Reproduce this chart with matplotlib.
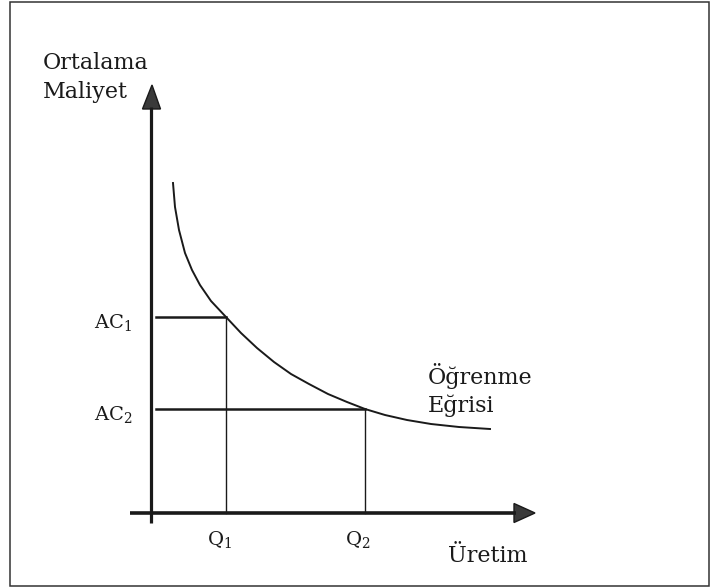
import matplotlib

matplotlib.use("Agg")
import matplotlib.pyplot as plt
from matplotlib.patches import Rectangle

# learning curve (output, average cost)
output_q = [2.2, 2.4, 2.8, 3.4, 4.1, 4.9, 6.0, 7.5, 9.0, 10.6, 12.3, 14.0, 15.8, 17.7, 19.6, 21.4, 23.4, 25.6, 28.0, 30.8, 33.9]
avg_cost = [33.0, 30.6, 28.3, 26.0, 24.3, 22.8, 21.2, 19.6, 18.0, 16.5, 15.1, 13.9, 12.9, 11.9, 11.1, 10.4, 9.8, 9.3, 8.9, 8.6, 8.4]

# marked points on the curve
point_q = [7.5, 21.4]
point_ac = [19.6, 10.4]
q_labels = ["Q$_1$", "Q$_2$"]
ac_labels = ["AC$_1$", "AC$_2$"]

plt.rcParams["font.family"] = "DejaVu Serif"
plt.rcParams["mathtext.fontset"] = "dejavuserif"

INK = "#1a1a1a"

fig = plt.figure(figsize=(7.17, 5.88), dpi=100)
ax = fig.add_axes([0, 0, 1, 1])
ax.set_xlim(-15.1, 56.6)
ax.set_ylim(-7.5, 51.3)
ax.axis("off")

# outer frame
fig.patches.append(
    Rectangle((10 / 717, 2 / 588), 699 / 717, 584 / 588, transform=fig.transFigure,
              fill=False, edgecolor="#333333", linewidth=1.1)
)

# axes with arrow heads
ax.plot([0, 0], [-1.0, 40.6], color=INK, linewidth=2.3, solid_capstyle="butt")
ax.fill([-0.85, 0.1, 0.95], [40.4, 42.8, 40.4], facecolor="#3a3a3a", edgecolor=INK, linewidth=1.0)
ax.plot([-2.1, 36.5], [0, 0], color=INK, linewidth=2.6, solid_capstyle="butt")
ax.fill([36.3, 38.4, 36.3], [0.95, 0.0, -0.95], facecolor="#3a3a3a", edgecolor=INK, linewidth=1.0)

# curve
ax.plot(output_q, avg_cost, color=INK, linewidth=1.4, solid_joinstyle="round")

# guide lines
for q, ac in zip(point_q, point_ac):
    ax.plot([0.45, q], [ac, ac], color=INK, linewidth=1.8)
    ax.plot([q, q], [0, ac], color=INK, linewidth=1.0)

# labels
fs = 16
ax.text(-10.85, 44.4, "Ortalama", fontsize=fs, color=INK, va="baseline")
ax.text(-10.85, 41.5, "Maliyet", fontsize=fs, color=INK, va="baseline")
for ac, lab in zip(point_ac, ac_labels):
    ax.text(-5.7, ac - 1.1, lab, fontsize=fs - 2, color=INK, va="baseline")
for q, lab in zip(point_q, q_labels):
    ax.text(q - 0.7, -3.2, lab, fontsize=fs - 2, color=INK, va="baseline", ha="center")
ax.text(29.7, -4.9, "Üretim", fontsize=fs, color=INK, va="baseline")
ax.text(27.65, 12.9, "Öğrenme", fontsize=fs, color=INK, va="baseline")
ax.text(27.65, 10.1, "Eğrisi", fontsize=fs, color=INK, va="baseline")

fig.savefig("out.png", dpi=100)
